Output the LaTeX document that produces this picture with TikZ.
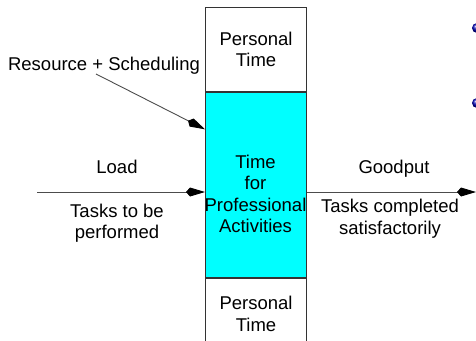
\documentclass[tikz,border=0pt]{standalone}
\usepackage{fontspec}
\setmainfont{Liberation Sans}
\usetikzlibrary{arrows.meta,calc}

\definecolor{aqua}{RGB}{0,255,255}

\tikzset{
  cell/.style={draw=black!80, line width=1.1pt, minimum width=101pt, inner sep=0pt,
    align=center, font=\fontsize{18.5}{21.5}\selectfont},
  flow/.style={draw=black!70, line width=0.9pt,
    -{Kite[length=19pt,width=9pt,inset=4pt,color=black,fill=black]}},
  lbl/.style={align=center, inner sep=0pt, font=\fontsize{18.5}{21.5}\selectfont}
}

\begin{document}
\begin{tikzpicture}[x=1pt,y=-1pt]

  \useasboundingbox (0,0) rectangle (476,340);

  % La columna de tiempo
  \node[cell, minimum height=84pt, anchor=north west] (top) at (205,7) {Personal\\Time};
  \node[cell, fill=aqua, minimum height=185pt, anchor=north] (mid) at (top.south) {};
  \node[cell, minimum height=70pt, anchor=north] (bot) at (mid.south) {Personal\\Time};
  \node[lbl] (midtxt) at (255.5,194) {Time\\for\\Professional\\Activities};

  % Extremos libres de las flechas
  \coordinate (resin) at (96,74);
  \coordinate (loadin) at (37,192);
  \coordinate (goodout) at (476,192);

  % Flechas
  \draw[flow] (resin) -- ($(mid.north west)!0.2!(mid.south west)$);
  \draw[flow] (loadin) -- (loadin -| mid.west);
  \draw[flow] (mid.east |- goodout) -- (goodout);

  % Etiquetas
  \node[lbl, anchor=base] (res) at (104,70) {Resource + Scheduling};
  \node[lbl, anchor=base] (load) at (117,173) {Load};
  \node[lbl] (tasks) at (117,223) {Tasks to be\\performed};
  \node[lbl, anchor=base] (good) at (394,173) {Goodput};
  \node[lbl] (done) at (390,218.5) {Tasks completed\\satisfactorily};

  % Viñetas
  \shade[ball color=blue!70!black] (477,28) circle (5pt);
  \shade[ball color=blue!70!black] (477,103) circle (5pt);

\end{tikzpicture}
\end{document}
